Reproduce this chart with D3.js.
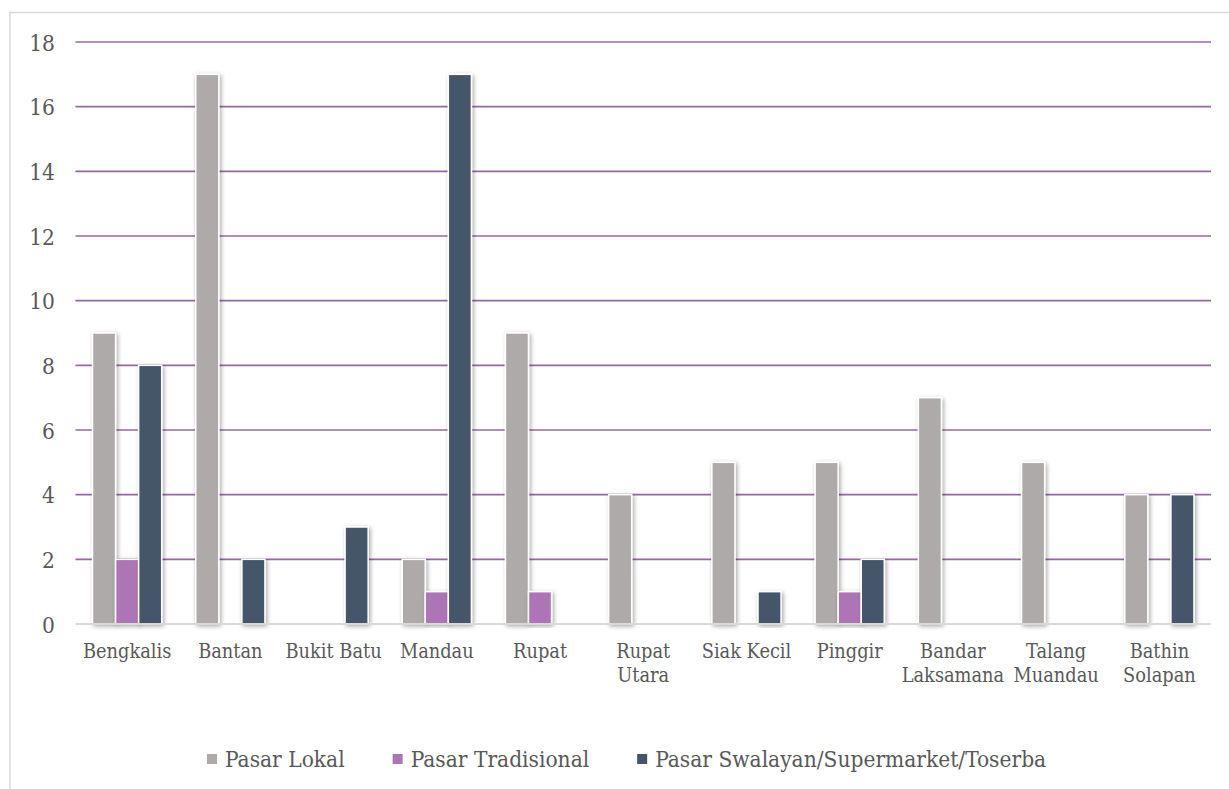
<!DOCTYPE html>
<html>
<head>
<meta charset="utf-8">
<script src="https://cdn.jsdelivr.net/npm/d3@7/dist/d3.min.js"></script>
<style>
  html, body { margin: 0; padding: 0; background: #ffffff; }
  svg { display: block; }
  text { font-family: "DejaVu Serif Condensed", "DejaVu Serif", serif; font-stretch: condensed; fill: #595959; }
</style>
</head>
<body>
<svg id="chart" width="1229" height="789"></svg>
<script>
const categories = [
  ["Bengkalis"], ["Bantan"], ["Bukit Batu"], ["Mandau"], ["Rupat"],
  ["Rupat", "Utara"], ["Siak Kecil"], ["Pinggir"], ["Bandar", "Laksamana"],
  ["Talang", "Muandau"], ["Bathin", "Solapan"]
];
const seriesNames = ["Pasar Lokal", "Pasar Tradisional", "Pasar Swalayan/Supermarket/Toserba"];
const pasarLokal =       [9, 17, 0, 2, 9, 4, 5, 5, 7, 5, 4];
const pasarTradisional = [2, 0, 0, 1, 1, 0, 0, 1, 0, 0, 0];
const pasarSwalayan =    [8, 2, 3, 17, 0, 0, 1, 2, 0, 0, 4];
const yTicks = [0, 2, 4, 6, 8, 10, 12, 14, 16, 18];
const colors = ["#AEAAAA", "#AE75B6", "#44546A"];

const seriesValues = [pasarLokal, pasarTradisional, pasarSwalayan];
const catKeys = categories.map(c => c.join(" "));

const svg = d3.select("#chart");

// outer frame
svg.append("rect")
  .attr("x", 10).attr("y", 12.5)
  .attr("width", 1240).attr("height", 800)
  .attr("fill", "none").attr("stroke", "#d9d9d9").attr("stroke-width", 1.5);

const plot = { left: 75.5, right: 1211, top: 42, bottom: 624 };

const y = d3.scaleLinear().domain([0, 18]).range([plot.bottom, plot.top]);
const x0 = d3.scaleBand().domain(catKeys).range([plot.left, plot.right])
  .paddingInner(0.33).paddingOuter(0.165);
const x1 = d3.scaleBand().domain(seriesNames).range([0, x0.bandwidth()]);

// shadow filter
const defs = svg.append("defs");
const f = defs.append("filter").attr("id", "shadow")
  .attr("x", "-50%").attr("y", "-10%").attr("width", "200%").attr("height", "120%");
f.append("feDropShadow").attr("dx", 1.5).attr("dy", 1.5).attr("stdDeviation", 2)
  .attr("flood-color", "#000").attr("flood-opacity", 0.35);

// gridlines
svg.append("g").selectAll("line").data(yTicks.filter(t => t > 0)).join("line")
  .attr("x1", plot.left).attr("x2", plot.right)
  .attr("y1", d => y(d)).attr("y2", d => y(d))
  .attr("stroke", "#9568A1").attr("stroke-width", 1.6);

// y axis labels
const yAxis = d3.axisLeft(y).tickValues(yTicks).tickSize(0).tickPadding(0);
const gy = svg.append("g").attr("transform", `translate(55,0)`).call(yAxis);
gy.select(".domain").remove();
gy.selectAll("text").style("font-family", null).attr("fill", null)
  .style("font-size", "22.5px").attr("dy", "0.36em");

// bars
const groups = svg.append("g").selectAll("g").data(catKeys).join("g")
  .attr("transform", d => `translate(${x0(d)},0)`);
groups.selectAll("rect")
  .data((d, i) => seriesNames.map((s, j) => ({ s, j, v: seriesValues[j][i] })).filter(e => e.v > 0))
  .join("rect")
  .attr("x", e => x1(e.s))
  .attr("width", x1.bandwidth())
  .attr("y", e => y(e.v))
  .attr("height", e => y(0) - y(e.v))
  .attr("fill", e => colors[e.j])
  .attr("stroke", "#ffffff").attr("stroke-width", 1.5)
  .attr("filter", "url(#shadow)");

// x axis line
svg.append("line")
  .attr("x1", plot.left).attr("x2", plot.right)
  .attr("y1", plot.bottom).attr("y2", plot.bottom)
  .attr("stroke", "#d9d9d9").attr("stroke-width", 2);

// category labels
const xAxis = d3.axisBottom(x0).tickSize(0).tickFormat("");
const gx = svg.append("g").attr("transform", `translate(0,${plot.bottom})`).call(xAxis);
gx.select(".domain").remove();
gx.selectAll(".tick").each(function(d, i) {
  const t = d3.select(this).append("text")
    .attr("text-anchor", "middle")
    .style("font-size", "19.8px");
  categories[i].forEach((line, k) => {
    t.append("tspan").attr("x", 0).attr("y", 34 + k * 24).text(line);
  });
});

// legend
const legend = svg.append("g");
let lx = 0;
seriesNames.forEach((name, i) => {
  const g = legend.append("g");
  g.append("rect").attr("x", 0).attr("y", -5).attr("width", 10).attr("height", 10)
    .attr("fill", colors[i]);
  const t = g.append("text").attr("x", 18).attr("y", 7.5)
    .style("font-size", "22.5px").text(name);
  const w = 18 + t.node().getComputedTextLength();
  g.attr("transform", `translate(${lx},759)`);
  lx += w + 48;
});
const totalW = lx - 48;
legend.attr("transform", `translate(${207},0)`);
</script>
</body>
</html>
